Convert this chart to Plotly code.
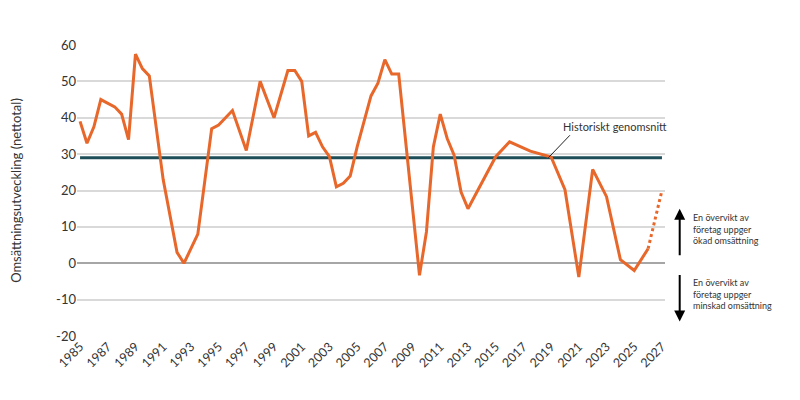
import plotly.graph_objects as go

# Omsättningsutveckling (nettotal), observerade brytpunkter i kurvan
years = [1985.0, 1985.5, 1986.0, 1986.5, 1987.5, 1988.0, 1988.5, 1989.0, 1989.5, 1990.0,
         1991.0, 1992.0, 1992.5, 1993.5, 1994.5, 1995.0, 1996.0, 1997.0, 1998.0, 1999.0,
         2000.0, 2000.5, 2001.0, 2001.5, 2002.0, 2002.5, 2003.0, 2003.5, 2004.0, 2004.5,
         2005.0, 2006.0, 2006.5, 2007.0, 2007.5, 2008.0, 2009.5, 2010.0, 2010.5, 2011.0,
         2011.5, 2012.0, 2012.5, 2013.0, 2015.0, 2016.0, 2017.5, 2019.0, 2020.0, 2021.0,
         2022.0, 2023.0, 2024.0, 2025.0, 2026.0]
values = [39, 33, 37.5, 45, 43, 41, 34, 57.5, 53.5, 51.5,
          23, 3, 0, 8, 37, 38, 42, 31, 50, 40,
          53, 53, 50, 35, 36, 32, 29.3, 21, 22, 24,
          32, 46, 49.5, 56, 52, 52, -3.3, 8.6, 32, 41,
          34.3, 29.7, 19.6, 15, 29.3, 33.4, 30.8, 29.2, 20.2, -3.8,
          25.8, 18.3, 1, -2, 4]

forecast_years = [2026.0, 2027.0]
forecast_values = [4, 20]

avg_years = [1985, 2027]
hist_avg = 29

tick_years = list(range(1985, 2028, 2))
y_ticks = [-20, -10, 0, 10, 20, 30, 40, 50, 60]

orange = "#e8672a"
teal = "#1d4e57"

fig = go.Figure()

fig.add_trace(go.Scatter(
    x=avg_years, y=[hist_avg, hist_avg], mode="lines",
    line=dict(color=teal, width=2.8), hoverinfo="skip"
))
fig.add_trace(go.Scatter(
    x=years, y=values, mode="lines",
    line=dict(color=orange, width=3), hoverinfo="skip"
))
fig.add_trace(go.Scatter(
    x=forecast_years, y=forecast_values, mode="lines",
    line=dict(color=orange, width=3, dash="dot"), hoverinfo="skip"
))

# Etikett för historiskt genomsnitt med pekarlinje
fig.add_annotation(
    x=2018.8, y=hist_avg, xref="x", yref="y",
    ax=23, ay=-24, axref="pixel", ayref="pixel",
    showarrow=True, arrowhead=0, arrowwidth=1, arrowcolor="#222",
    text="", standoff=0
)
fig.add_annotation(
    x=2023.6, y=37.5, xref="x", yref="y",
    text="Historiskt genomsnitt", showarrow=False,
    font=dict(size=11, color="#333", family="Lato")
)

# Pilar och förklaringstexter till höger
fig.add_annotation(x=1.025, y=15, xref="paper", yref="y", ax=0, ay=48,
                   showarrow=True, arrowhead=2, arrowsize=1.1, arrowwidth=2,
                   arrowcolor="black", text="", standoff=0)
fig.add_annotation(x=1.025, y=-16, xref="paper", yref="y", ax=0, ay=-48,
                   showarrow=True, arrowhead=2, arrowsize=1.1, arrowwidth=2,
                   arrowcolor="black", text="", standoff=0)
fig.add_annotation(
    x=1.045, y=9.5, xref="paper", yref="y", xanchor="left", yanchor="middle",
    text="En övervikt av<br>företag uppger<br>ökad omsättning", showarrow=False, align="left",
    font=dict(size=9, color="#333", family="Lato")
)
fig.add_annotation(
    x=1.045, y=-8.5, xref="paper", yref="y", xanchor="left", yanchor="middle",
    text="En övervikt av<br>företag uppger<br>minskad omsättning", showarrow=False, align="left",
    font=dict(size=9, color="#333", family="Lato")
)

fig.update_layout(
    width=784, height=384,
    margin=dict(l=69, r=127, t=37, b=56),
    plot_bgcolor="white", paper_bgcolor="white",
    showlegend=False,
    font=dict(family="Lato", color="#333"),
    xaxis=dict(
        range=[1984.78, 2027.22], tickmode="array", tickvals=tick_years,
        ticktext=[str(y) for y in tick_years], tickangle=-45,
        showgrid=False, zeroline=False, showline=False, ticks="",
        tickfont=dict(size=12.5, color="#333"), automargin=False
    ),
    yaxis=dict(
        range=[-20, 60], tickmode="array", tickvals=y_ticks,
        ticktext=[str(v) for v in y_ticks],
        showgrid=True, gridcolor="#d9d9d9", gridwidth=1.5,
        zeroline=True, zerolinecolor="#a6a6a6", zerolinewidth=2,
        ticks="", tickfont=dict(size=13, color="#333"), automargin=False,
        title=dict(text="Omsättningsutveckling (nettotal)", font=dict(size=13, color="#333"),
                   standoff=33)
    )
)

fig.write_html("out.html")
